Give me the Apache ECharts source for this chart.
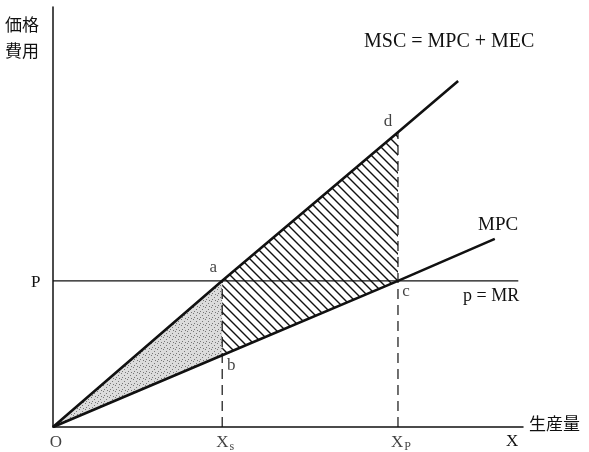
<!DOCTYPE html>
<html>
<head>
<meta charset="utf-8">
<script src="https://cdn.jsdelivr.net/npm/echarts@6/dist/echarts.min.js"></script>
<style>
html, body { margin: 0; padding: 0; background: #fff; }
#chart { width: 589px; height: 452px; }
</style>
</head>
<body>
<div id="chart"></div>
<script>
// values (axis units 0..100)
var xS = 36, xP = 73.4, priceP = 34.8;
var mscLine = [[0, 0], [36, 34.8], [73.4, 70.2], [86.2, 82.4]];
var mpcLine = [[0, 0], [36, 17.1], [73.4, 34.8], [94, 44.8]];
var priceLine = [[0, 34.8], [99, 34.8]];
var stippleArea = [[0, 0], [36, 34.8], [36, 17.1]];                 // O a b
var hatchArea = [[36, 34.8], [73.4, 70.2], [73.4, 34.8], [36, 17.1]]; // a d c b
var pointNames = ['a', 'b', 'c', 'd'];
var pointValues = [[36, 34.8], [36, 17.1], [73.4, 34.8], [73.4, 70.2]];
var axisNames = ['O', 'X{s|s}', 'X{s|P}'];
var axisValues = [[0, 0], [36, 0], [73.4, 0]];

var serif = '"Liberation Serif", "DejaVu Serif", serif';
var cjk = '"Noto Sans CJK JP", sans-serif';
var ink = '#111';

function hatchPattern() {
    var c = document.createElement('canvas');
    c.width = 9; c.height = 9;
    var g = c.getContext('2d');
    g.strokeStyle = ink; g.lineWidth = 1.4;
    g.beginPath();
    g.moveTo(0, 0); g.lineTo(9, 9);
    g.moveTo(-2, 7); g.lineTo(2, 11);
    g.moveTo(7, -2); g.lineTo(11, 2);
    g.stroke();
    return c;
}
function stipplePattern() {
    var c = document.createElement('canvas');
    c.width = 6; c.height = 6;
    var g = c.getContext('2d');
    g.fillStyle = '#dcdcdc'; g.fillRect(0, 0, 6, 6);
    g.fillStyle = '#777';
    g.fillRect(1, 1, 1, 1); g.fillRect(4, 3, 1, 1); g.fillRect(2, 5, 1, 1); g.fillRect(5, 0, 1, 1);
    return c;
}
var hatchFill = { image: hatchPattern(), repeat: 'repeat' };
var stippleFill = { image: stipplePattern(), repeat: 'repeat' };

function polygonSeries(area, fill) {
    return {
        type: 'custom', silent: true, z: 1,
        data: [0],
        renderItem: function (params, api) {
            return {
                type: 'polygon',
                shape: { points: area.map(function (p) { return api.coord(p); }) },
                style: { fill: fill, stroke: null }
            };
        }
    };
}
function lineSeries(data, width, dashed) {
    return {
        type: 'line', data: data, showSymbol: false, silent: true, z: 3,
        lineStyle: { color: ink, width: width, type: dashed ? [10, 6] : 'solid' }
    };
}

var labelOffsets = { a: [-9, -13], b: [9, 10], c: [8, 11], d: [-10, -11] };

var myChart = echarts.init(document.getElementById('chart'));
var option = {
    backgroundColor: '#fff',
    animation: false,
    grid: { left: 53, right: 66, top: 7, bottom: 25 },
    xAxis: {
        type: 'value', min: 0, max: 100,
        axisLine: { show: true, lineStyle: { color: ink, width: 1.5 } },
        axisTick: { show: false }, axisLabel: { show: false }, splitLine: { show: false }
    },
    yAxis: {
        type: 'value', min: 0, max: 100,
        axisLine: { show: true, lineStyle: { color: ink, width: 1.5 } },
        axisTick: { show: false }, axisLabel: { show: false }, splitLine: { show: false }
    },
    series: [
        polygonSeries(stippleArea, stippleFill),
        polygonSeries(hatchArea, hatchFill),
        lineSeries(priceLine, 1.2, false),
        lineSeries([[xS, 0], [xS, priceP]], 1.2, true),
        lineSeries([[xP, 0], mscLine[2]], 1.2, true),
        lineSeries(mscLine, 2.6, false),
        lineSeries(mpcLine, 2.6, false),
        {
            type: 'scatter', symbolSize: 0, silent: true, z: 5,
            data: pointNames.map(function (n, i) {
                return { name: n, value: pointValues[i], label: { offset: labelOffsets[n] } };
            }),
            label: {
                show: true, position: 'inside', formatter: '{b}',
                fontFamily: serif, fontSize: 17, color: ink
            }
        },
        {
            type: 'scatter', symbolSize: 0, silent: true, z: 5,
            data: axisNames.map(function (n, i) {
                return { name: n, value: axisValues[i] };
            }),
            label: {
                show: true, position: 'inside', offset: [3, 16], formatter: '{b}',
                fontFamily: serif, fontSize: 17, color: ink,
                rich: { s: { fontFamily: serif, fontSize: 12, padding: [8, 0, 0, 1], color: ink } }
            }
        }
    ],
    graphic: [
        { type: 'text', left: 5, top: 12, style: { text: '価格\n費用', font: '17px ' + cjk, lineHeight: 26, fill: ink } },
        { type: 'text', left: 31, top: 274, style: { text: 'P', font: '17px ' + serif, fill: ink } },
        { type: 'text', left: 506, top: 433, style: { text: 'X', font: '17px ' + serif, fill: ink } },
        { type: 'text', left: 529, top: 415, style: { text: '生産量', font: '17px ' + cjk, fill: ink } },
        { type: 'text', left: 364, top: 32, style: { text: 'MSC = MPC + MEC', font: '20px ' + serif, fill: ink } },
        { type: 'text', left: 478, top: 216, style: { text: 'MPC', font: '19px ' + serif, fill: ink } },
        { type: 'text', left: 463, top: 287, style: { text: 'p = MR', font: '18px ' + serif, fill: ink } }
    ]
};
if (option && typeof option === "object") {
    myChart.setOption(option, true);
}
</script>
</body>
</html>
